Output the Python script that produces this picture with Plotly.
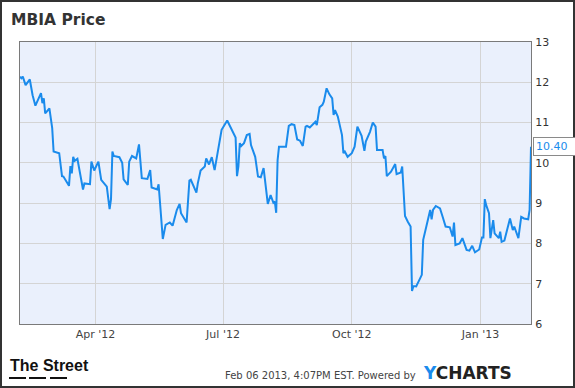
import plotly.graph_objects as go

dates = [
    "2012-02-07", "2012-02-08", "2012-02-09", "2012-02-11", "2012-02-14", "2012-02-16", "2012-02-18",
    "2012-02-22", "2012-02-23", "2012-02-24", "2012-02-25", "2012-02-28", "2012-03-01", "2012-03-02",
    "2012-03-06", "2012-03-08", "2012-03-09", "2012-03-13", "2012-03-14", "2012-03-15", "2012-03-16",
    "2012-03-17", "2012-03-19", "2012-03-21", "2012-03-23", "2012-03-24", "2012-03-28", "2012-03-29",
    "2012-03-31", "2012-04-03", "2012-04-05", "2012-04-09", "2012-04-11", "2012-04-12", "2012-04-13",
    "2012-04-14", "2012-04-18", "2012-04-20", "2012-04-21", "2012-04-24", "2012-04-25", "2012-04-27",
    "2012-04-30", "2012-05-02", "2012-05-03", "2012-05-04", "2012-05-08", "2012-05-09", "2012-05-10",
    "2012-05-11", "2012-05-15", "2012-05-16", "2012-05-19", "2012-05-21", "2012-05-24", "2012-05-26",
    "2012-05-29", "2012-05-31", "2012-06-01", "2012-06-05", "2012-06-07", "2012-06-08", "2012-06-12",
    "2012-06-13", "2012-06-15", "2012-06-18", "2012-06-19", "2012-06-21", "2012-06-23", "2012-06-25",
    "2012-06-30", "2012-07-04", "2012-07-06", "2012-07-10", "2012-07-11", "2012-07-12", "2012-07-13",
    "2012-07-14", "2012-07-16", "2012-07-18", "2012-07-20", "2012-07-21", "2012-07-24", "2012-07-26",
    "2012-07-28", "2012-07-30", "2012-08-02", "2012-08-04", "2012-08-06", "2012-08-07", "2012-08-08",
    "2012-08-09", "2012-08-10", "2012-08-15", "2012-08-17", "2012-08-19", "2012-08-21", "2012-08-23",
    "2012-08-25", "2012-08-27", "2012-08-29", "2012-08-30", "2012-09-01", "2012-09-03", "2012-09-05",
    "2012-09-06", "2012-09-08", "2012-09-10", "2012-09-11", "2012-09-13", "2012-09-15", "2012-09-17",
    "2012-09-18", "2012-09-19", "2012-09-21", "2012-09-24", "2012-09-25", "2012-09-26", "2012-09-28",
    "2012-10-01", "2012-10-03", "2012-10-05", "2012-10-08", "2012-10-10", "2012-10-11", "2012-10-14",
    "2012-10-16", "2012-10-18", "2012-10-19", "2012-10-23", "2012-10-24", "2012-10-25", "2012-10-26",
    "2012-10-29", "2012-11-01", "2012-11-02", "2012-11-05", "2012-11-06", "2012-11-08", "2012-11-10",
    "2012-11-12", "2012-11-13", "2012-11-14", "2012-11-16", "2012-11-20", "2012-11-21", "2012-11-23",
    "2012-11-26", "2012-11-27", "2012-11-28", "2012-11-30", "2012-12-03", "2012-12-05", "2012-12-07",
    "2012-12-10", "2012-12-12", "2012-12-13", "2012-12-14", "2012-12-17", "2012-12-19", "2012-12-22",
    "2012-12-24", "2012-12-26", "2012-12-28", "2012-12-31", "2013-01-02", "2013-01-03", "2013-01-04",
    "2013-01-05", "2013-01-07", "2013-01-08", "2013-01-10", "2013-01-11", "2013-01-14", "2013-01-15",
    "2013-01-16", "2013-01-18", "2013-01-22", "2013-01-24", "2013-01-25", "2013-01-28", "2013-01-30",
    "2013-02-01", "2013-02-04", "2013-02-05", "2013-02-06",
]

prices = [
    12.14, 12.10, 12.14, 11.93, 12.07, 11.68, 11.42,
    11.73, 11.48, 11.60, 11.23, 11.35, 10.86, 10.28,
    10.24, 9.67, 9.66, 9.43, 9.92, 9.74, 10.15,
    10.05, 10.10, 9.74, 9.34, 9.49, 9.47, 10.03,
    9.81, 10.03, 9.58, 9.41, 8.85, 9.10, 10.28,
    10.17, 10.14, 10.00, 9.59, 9.45, 10.03, 10.17,
    10.11, 10.46, 9.91, 9.62, 9.60, 9.70, 9.82,
    9.39, 9.34, 9.47, 8.11, 8.46, 8.52, 8.44,
    8.83, 8.98, 8.75, 8.52, 9.56, 9.58, 9.26,
    9.49, 9.81, 9.91, 10.11, 9.96, 10.14, 9.82,
    10.82, 11.05, 10.90, 10.63, 9.67, 9.91, 10.49,
    10.42, 10.49, 10.69, 10.72, 10.44, 10.15, 9.66,
    9.64, 9.87, 8.98, 9.20, 9.01, 9.04, 8.76,
    10.07, 10.40, 10.40, 10.92, 10.96, 10.94, 10.58,
    10.55, 10.42, 10.90, 10.92, 10.88, 10.96, 11.02,
    10.94, 11.38, 11.44, 11.52, 11.85, 11.70, 11.60,
    11.19, 11.31, 11.15, 10.69, 10.24, 10.28, 10.15,
    10.24, 10.40, 10.90, 10.67, 10.30, 10.53, 10.77,
    11.00, 10.90, 10.32, 10.32, 10.11, 10.17, 9.67,
    9.78, 9.97, 9.72, 9.76, 9.91, 8.68, 8.54,
    8.42, 6.82, 6.94, 6.93, 7.22, 8.09, 8.42,
    8.83, 8.60, 8.83, 8.93, 8.87, 8.65, 8.42,
    8.40, 8.17, 8.52, 7.96, 8.00, 8.13, 7.84,
    7.82, 7.94, 7.78, 7.85, 8.15, 8.15, 9.10,
    8.95, 8.75, 8.13, 8.58, 8.25, 8.13, 8.29,
    8.04, 8.07, 8.62, 8.33, 8.42, 8.13, 8.66,
    8.62, 8.60, 8.83, 10.40,
]

x_ticks = ["2012-04-01", "2012-07-01", "2012-10-01", "2013-01-01"]
x_tick_labels = ["Apr '12", "Jul '12", "Oct '12", "Jan '13"]
y_ticks = [6, 7, 8, 9, 10, 11, 12, 13]

title_text = "MBIA Price"
footer_text = "Feb 06 2013, 4:07PM EST. Powered by"

W, H = 575, 388
ML, MR, MT, MB = 20, 44, 42, 64
PW, PH = W - ML - MR, H - MT - MB


def px(xp):
    return (xp - ML) / PW


def py(yp):
    return (H - MB - yp) / PH


LINE = "#1a8bec"

fig = go.Figure()
fig.add_trace(go.Scatter(
    x=dates, y=prices, mode="lines",
    line=dict(color=LINE, width=2),
    hoverinfo="skip", showlegend=False,
))

fig.update_layout(
    width=W, height=H,
    margin=dict(l=ML, r=MR, t=MT, b=MB, pad=0),
    paper_bgcolor="white",
    plot_bgcolor="#eaf0fc",
    font=dict(family="DejaVu Sans", color="#444"),
    title=dict(text="<b>" + title_text + "</b>", x=11 / W, xanchor="left",
               y=1 - 20 / H, yanchor="middle", xref="container", yref="container",
               font=dict(size=15.5, color="#333", family="DejaVu Sans")),
    xaxis=dict(
        type="date", range=["2012-02-07", "2013-02-06"],
        tickvals=x_ticks, ticktext=x_tick_labels,
        showgrid=True, gridcolor="#d4d4d4", gridwidth=1,
        showline=True, linecolor="#7a7a7a", linewidth=1, mirror=True,
        ticks="", tickfont=dict(size=11, color="#444"),
        zeroline=False, fixedrange=True,
    ),
    yaxis=dict(
        range=[6, 13], side="right",
        tickvals=y_ticks, ticktext=[str(v) for v in y_ticks],
        showgrid=True, gridcolor="#d4d4d4", gridwidth=1,
        showline=True, linecolor="#7a7a7a", linewidth=1, mirror=True,
        ticks="outside", ticklen=1, tickcolor="rgba(0,0,0,0)",
        tickfont=dict(size=11, color="#333"),
        zeroline=False, fixedrange=True,
    ),
)

# last value label
fig.add_annotation(
    x=dates[-1], y=prices[-1], xref="x", yref="y",
    text="%.2f" % prices[-1], showarrow=False,
    xanchor="left", yanchor="middle", xshift=2,
    font=dict(size=11, color=LINE),
    bgcolor="white", bordercolor="#8a8a8a", borderwidth=1, borderpad=2,
    width=52, align="left",
)

# footer
fig.add_annotation(
    x=px(418), y=py(375), xref="paper", yref="paper",
    text=footer_text, showarrow=False, xanchor="right", yanchor="middle",
    font=dict(size=10, color="#444"),
)
fig.add_annotation(
    x=px(421), y=py(373), xref="paper", yref="paper",
    text="<b><span style='color:" + LINE + "'>Y</span>CHARTS</b>", showarrow=False,
    xanchor="left", yanchor="middle",
    font=dict(size=17, color="#222", family="DejaVu Sans"),
)
fig.add_annotation(
    x=px(8), y=py(365), xref="paper", yref="paper",
    text="<b>The Street</b>", showarrow=False,
    xanchor="left", yanchor="middle",
    font=dict(size=16, color="#111", family="Liberation Sans Narrow, Liberation Sans"),
)
for a, b in [(9, 26), (29, 46), (50, 67)]:
    fig.add_shape(type="line", xref="paper", yref="paper",
                  x0=px(a), x1=px(b), y0=py(378), y1=py(378),
                  line=dict(color="#111", width=2))

# outer frame
fig.add_shape(type="rect", xref="paper", yref="paper",
              x0=px(1), x1=px(574), y0=py(387), y1=py(1),
              line=dict(color="#333", width=2), layer="above")

fig.write_html("out.html")
